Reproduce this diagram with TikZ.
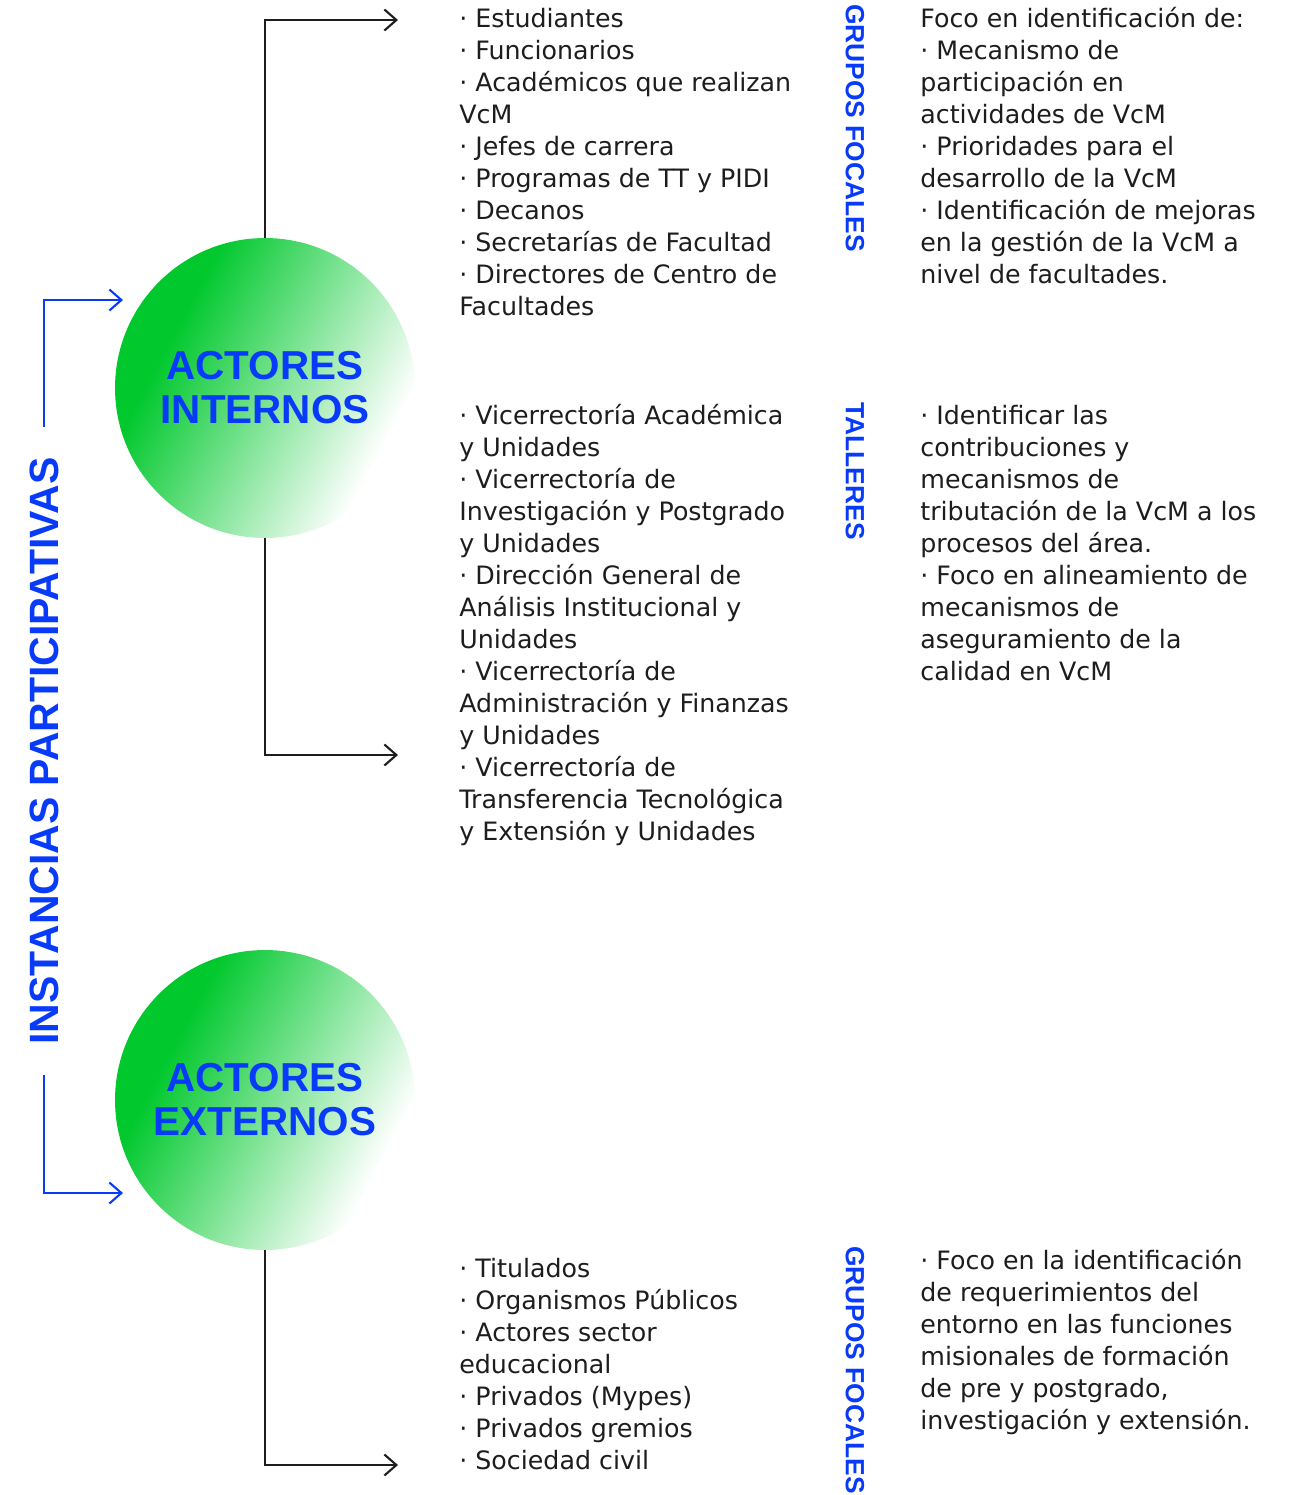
\documentclass[tikz,border=0pt]{standalone}
\usepackage{fontspec}
\usepackage{tikz}
\setmainfont{DejaVu Sans}
\newfontfamily\headfont{Liberation Sans}
\definecolor{leaf}{RGB}{0,200,45}
\definecolor{mblue}{RGB}{8,58,250}
\definecolor{ink}{RGB}{30,28,30}
\usetikzlibrary{shapes,arrows.meta,positioning}
\pgfdeclarehorizontalshading{actorfade}{100bp}{color(0bp)=(leaf); color(32bp)=(leaf); color(50bp)=(leaf!55!white); color(72bp)=(white); color(100bp)=(white)}
\tikzset{actor/.style={circle, shading=actorfade, shading angle=-28, minimum size=6cm, inner sep=0pt, outer sep=0pt,
 align=center, text=mblue, font=\headfont\bfseries\fontsize{23}{25}\selectfont}}
\tikzset{members/.style={anchor=base west, align=left, inner sep=0pt, text=ink, font=\fontsize{14.4}{18.2}\selectfont}}
\tikzset{method/.style={rotate=-90, inner sep=0pt, text=mblue, font=\headfont\bfseries\fontsize{15}{15}\selectfont}}
\tikzset{side/.style={rotate=90, inner xsep=17pt, inner ysep=0pt, text=mblue, font=\headfont\bfseries\fontsize{23.3}{24}\selectfont}}
\tikzset{line/.style={draw=ink, line width=1.2pt, -{Straight Barb[length=0.24cm, width=0.42cm]}}}
\tikzset{blueline/.style={draw=mblue, line width=1.2pt, -{Straight Barb[length=0.24cm, width=0.42cm]}}}

\begin{document}
\begin{tikzpicture}[x=0.02cm, y=-0.02cm]
        \useasboundingbox (0,0) rectangle (1291,1495);
        \node[actor] (int) at (265,388) {ACTORES\\INTERNOS};
        \node[actor] (ext) at (265,1100) {ACTORES\\EXTERNOS};
        \node[side] (inst) at (44,751) {INSTANCIAS PARTICIPATIVAS};

        \node[members] (intA) at (459,315) {· Estudiantes\\· Funcionarios\\· Académicos que realizan\\VcM\\· Jefes de carrera\\
          · Programas de TT y PIDI\\· Decanos\\· Secretarías de Facultad\\· Directores de Centro de\\Facultades};
        \node[members] (intB) at (920,283) {Foco en identificación de:\\· Mecanismo de\\participación en\\actividades de VcM\\
          · Prioridades para el\\desarrollo de la VcM\\· Identificación de mejoras\\en la gestión de la VcM a\\nivel de facultades.};
        \node[members] (uniA) at (459,840) {· Vicerrectoría Académica\\y Unidades\\· Vicerrectoría de\\Investigación y Postgrado\\
          y Unidades\\· Dirección General de\\Análisis Institucional y\\Unidades\\· Vicerrectoría de\\
          Administración y Finanzas\\y Unidades\\· Vicerrectoría de\\Transferencia Tecnológica\\y Extensión y Unidades};
        \node[members] (uniB) at (920,680) {· Identificar las\\contribuciones y\\mecanismos de\\tributación de la VcM a los\\
          procesos del área.\\· Foco en alineamiento de\\mecanismos de\\aseguramiento de la\\calidad en VcM};
        \node[members] (extA) at (459,1469) {· Titulados\\· Organismos Públicos\\· Actores sector\\educacional\\
          · Privados (Mypes)\\· Privados gremios\\· Sociedad civil};
        \node[members] (extB) at (920,1429) {· Foco en la identificación\\de requerimientos del\\entorno en las funciones\\
          misionales de formación\\de pre y postgrado,\\investigación y extensión.};

        \node[method] (gf1) at (855,128) {GRUPOS FOCALES};
        \node[method] (tall) at (855,471) {TALLERES};
        \node[method] (gf2) at (855,1370) {GRUPOS FOCALES};

        \coordinate (toIntA) at (398,20);
        \coordinate (toUniA) at (398,755);
        \coordinate (toExtA) at (398,1465);
        \coordinate (toInt) at (123,300);
        \coordinate (toExt) at (123,1193);

        \path[line] (int.north) |- (toIntA);
        \path[line] (int.south) |- (toUniA);
        \path[line] (ext.south) |- (toExtA);
        \path[blueline] (inst.east) |- (toInt);
        \path[blueline] (inst.west) |- (toExt);
      \end{tikzpicture}
\end{document}
